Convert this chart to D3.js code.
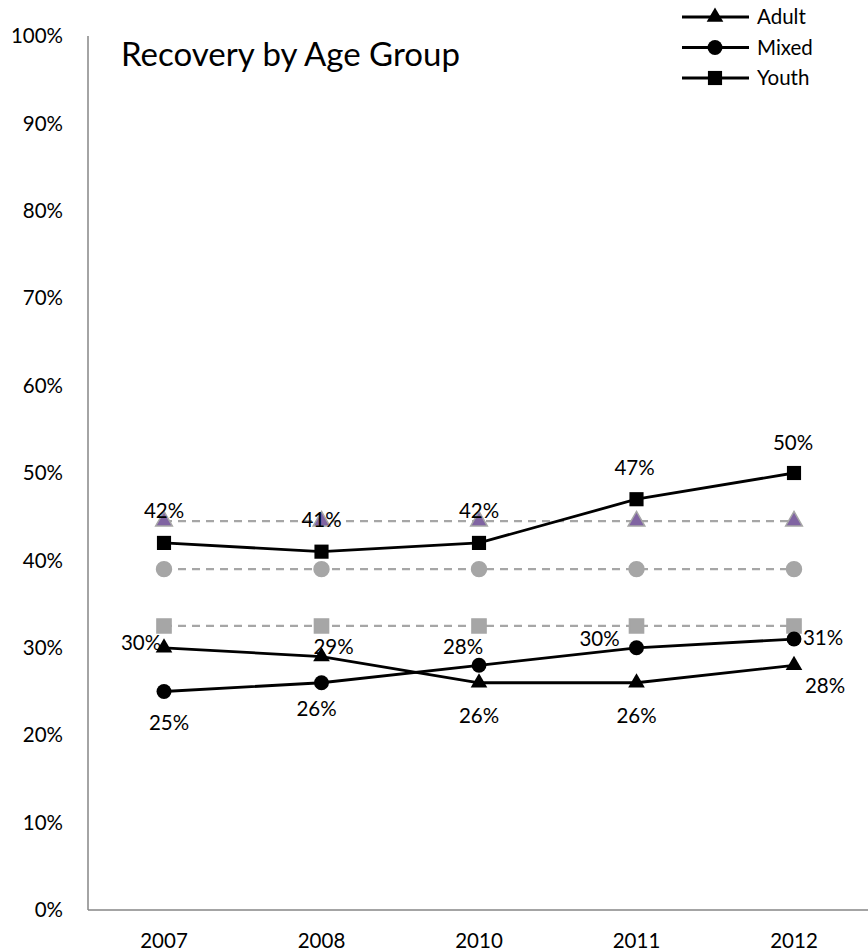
<!DOCTYPE html>
<html>
<head>
<meta charset="utf-8">
<script src="https://cdn.jsdelivr.net/npm/d3@7"></script>
<style>
  html, body { margin: 0; padding: 0; background: #fff; }
  svg text { font-family: Lato, "Open Sans", sans-serif; fill: #000; }
</style>
</head>
<body>
<svg id="chart" width="868" height="951"></svg>
<script>
// Categories and series
const years = ["2007", "2008", "2010", "2011", "2012"];
const adult = [30, 29, 26, 26, 28];
const mixed = [25, 26, 28, 30, 31];
const youth = [42, 41, 42, 47, 50];

// Benchmark (average) levels drawn as dashed reference lines
const adultBenchmark = 44.5;
const mixedBenchmark = 39;
const youthBenchmark = 32.5;

const yTicks = [0, 10, 20, 30, 40, 50, 60, 70, 80, 90, 100];

// Label offsets (dx, dy) per point, so labels avoid overlapping marks
const adultLabelOffsets = [[-23, -5], [12, -10], [0, 33], [0, 33], [31, 21]];
const mixedLabelOffsets = [[5, 31], [-5, 26], [-16, -18], [-37, -9], [29, -1]];
const youthLabelOffsets = [[0, -32], [0, -32], [0, -32], [-2, -31], [-1, -30]];

const svg = d3.select("#chart");
const margin = { left: 88, top: 36, bottom: 910 };
const fontSize = 20.5;

const x = d3.scalePoint().domain(years).range([164, 794]);
const y = d3.scaleLinear().domain([0, 100]).range([margin.bottom, margin.top]);

// Axes
const axisColor = "#868686";
svg.append("line")
  .attr("x1", margin.left).attr("x2", margin.left)
  .attr("y1", y(100)).attr("y2", y(0))
  .attr("stroke", axisColor).attr("stroke-width", 1.5);
svg.append("line")
  .attr("x1", margin.left).attr("x2", 868)
  .attr("y1", y(0)).attr("y2", y(0))
  .attr("stroke", axisColor).attr("stroke-width", 1.5);

svg.append("g").selectAll("text").data(yTicks).join("text")
  .attr("x", 63).attr("y", d => y(d))
  .attr("dy", "0.35em").attr("text-anchor", "end")
  .attr("font-size", fontSize)
  .text(d => d + "%");

svg.append("g").selectAll("text").data(years).join("text")
  .attr("x", d => x(d)).attr("y", 941)
  .attr("dy", "0.35em").attr("text-anchor", "middle")
  .attr("font-size", fontSize)
  .text(d => d);

// Title
svg.append("text")
  .attr("x", 121).attr("y", 66)
  .attr("font-size", 33)
  .text("Recovery by Age Group");

// Marker symbols
const symTri = d3.symbol().type(d3.symbolTriangle).size(120);
const symCircle = d3.symbol().type(d3.symbolCircle).size(175);
const symSquare = d3.symbol().type(d3.symbolSquare).size(200);

// Dashed benchmark lines
const benchmarks = [
  { value: adultBenchmark, sym: symTri, fill: "#8064A2", stroke: "#A6A6A6" },
  { value: mixedBenchmark, sym: symCircle, fill: "#A6A6A6", stroke: "#A6A6A6" },
  { value: youthBenchmark, sym: symSquare, fill: "#A6A6A6", stroke: "#A6A6A6" }
];
benchmarks.forEach(b => {
  const g = svg.append("g");
  g.append("line")
    .attr("x1", x(years[0])).attr("x2", x(years[years.length - 1]))
    .attr("y1", y(b.value)).attr("y2", y(b.value))
    .attr("stroke", "#A6A6A6").attr("stroke-width", 2.2)
    .attr("stroke-dasharray", "8,6");
  g.selectAll("path").data(years).join("path")
    .attr("d", b.sym)
    .attr("transform", d => `translate(${x(d)},${y(b.value)})`)
    .attr("fill", b.fill).attr("stroke", b.stroke).attr("stroke-width", 1.5);
});

// Series lines
const series = [
  { name: "Adult", values: adult, sym: symTri, offsets: adultLabelOffsets },
  { name: "Mixed", values: mixed, sym: symCircle, offsets: mixedLabelOffsets },
  { name: "Youth", values: youth, sym: symSquare, offsets: youthLabelOffsets }
];
const line = d3.line().x((d, i) => x(years[i])).y(d => y(d));

series.forEach(s => {
  const g = svg.append("g");
  g.append("path")
    .attr("d", line(s.values))
    .attr("fill", "none").attr("stroke", "#000").attr("stroke-width", 2.8);
  g.selectAll("path.m").data(s.values).join("path")
    .attr("class", "m")
    .attr("d", s.sym)
    .attr("transform", (d, i) => `translate(${x(years[i])},${y(d)})`)
    .attr("fill", "#000");
});

series.forEach(s => {
  svg.append("g").selectAll("text").data(s.values).join("text")
    .attr("x", (d, i) => x(years[i]) + s.offsets[i][0])
    .attr("y", (d, i) => y(d) + s.offsets[i][1])
    .attr("dy", "0.35em").attr("text-anchor", "middle")
    .attr("font-size", fontSize)
    .text(d => d + "%");
});

// Legend
const legend = svg.append("g");
series.forEach((s, i) => {
  const ly = 17 + i * 30.5;
  legend.append("line")
    .attr("x1", 682).attr("x2", 749).attr("y1", ly).attr("y2", ly)
    .attr("stroke", "#000").attr("stroke-width", 2.8);
  legend.append("path")
    .attr("d", s.sym)
    .attr("transform", `translate(715,${ly})`)
    .attr("fill", "#000");
  legend.append("text")
    .attr("x", 757).attr("y", ly).attr("dy", "0.35em")
    .attr("font-size", fontSize)
    .text(s.name);
});
</script>
</body>
</html>
